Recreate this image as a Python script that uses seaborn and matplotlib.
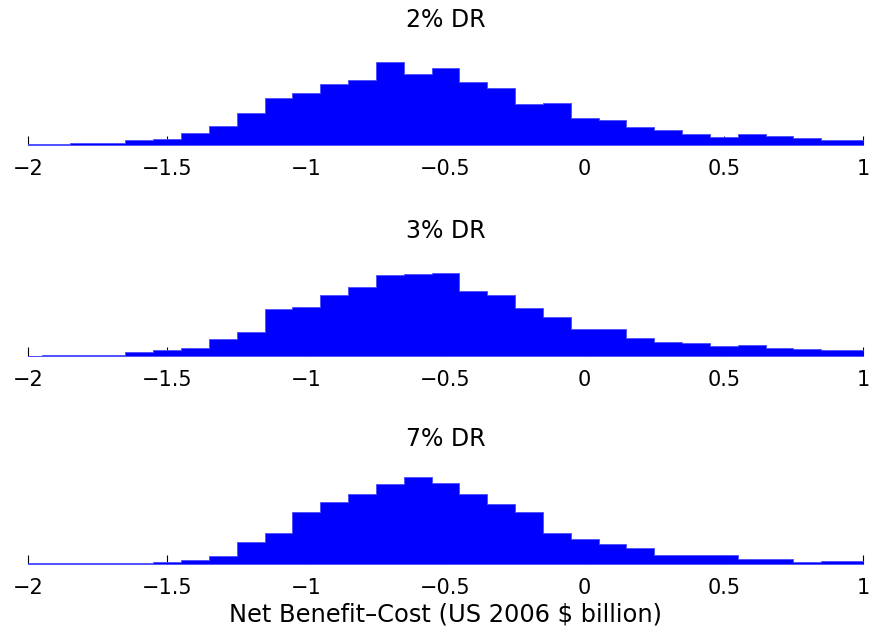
import numpy as np
import pandas as pd
import matplotlib
matplotlib.use("Agg")
import matplotlib.pyplot as plt
import seaborn as sns

# Histogram bin centres (width 0.1), net benefit minus cost in US 2006 $ billion
bin_centers = [-2.0, -1.9, -1.8, -1.7, -1.6, -1.5, -1.4, -1.3, -1.2, -1.1,
               -1.0, -0.9, -0.8, -0.7, -0.6, -0.5, -0.4, -0.3, -0.2, -0.1,
               0.0, 0.1, 0.2, 0.3, 0.4, 0.5, 0.6, 0.7, 0.8, 0.9, 1.0]

# Frequencies of simulated outcomes for each discount rate
freq_dr2 = [0.7, 0.7, 2.3, 2.3, 5.0, 6.3, 12.3, 19.0, 31.7, 47.3,
            51.7, 60.7, 64.7, 82.7, 70.7, 77.3, 63.0, 57.3, 41.0, 42.0,
            26.7, 24.7, 17.7, 15.0, 10.7, 8.0, 10.7, 9.3, 6.7, 5.3, 5.3]
freq_dr3 = [0.5, 1.0, 1.0, 1.0, 4.0, 6.0, 8.3, 16.7, 24.0, 46.7,
            49.0, 60.7, 69.3, 80.7, 81.7, 83.3, 64.7, 60.7, 47.7, 39.3,
            26.7, 26.7, 17.7, 14.0, 12.7, 10.0, 11.0, 8.3, 6.7, 5.7, 5.7]
freq_dr7 = [0.7, 0.7, 0.7, 0.7, 0.7, 2.3, 3.7, 8.3, 22.0, 30.7,
            51.7, 61.7, 70.3, 80.0, 87.0, 81.3, 70.0, 60.3, 51.7, 30.7,
            25.0, 20.3, 16.3, 9.3, 9.3, 9.3, 5.0, 5.0, 2.3, 3.3, 3.3]

panel_titles = ["2% DR", "3% DR", "7% DR"]
tick_values = [-2, -1.5, -1, -0.5, 0, 0.5, 1]
tick_labels = ["\u22122", "\u22121.5", "\u22121", "\u22120.5", "0", "0.5", "1"]
x_label = "Net Benefit\u2013Cost (US 2006 $ billion)"

sns.set_style("white")
plt.rcParams["font.family"] = ["DejaVu Sans"]
plt.rcParams["text.color"] = "black"
plt.rcParams["axes.labelcolor"] = "black"

W, H = 870, 630
fig = plt.figure(figsize=(W / 100, H / 100), dpi=100)

left_px, right_px = 28, 863
baselines_px = [145, 356, 564]
axes_h_px = 100

edges = [round(-2.05 + 0.1 * k, 2) for k in range(len(bin_centers) + 1)]
series = [freq_dr2, freq_dr3, freq_dr7]

for i, (title, freq) in enumerate(zip(panel_titles, series)):
    ax = fig.add_axes([left_px / W, 1 - baselines_px[i] / H,
                       (right_px - left_px) / W, axes_h_px / H])
    df = pd.DataFrame({"x": bin_centers, "w": freq})
    sns.histplot(data=df, x="x", weights="w", bins=edges, stat="count",
                 element="step", fill=True, color=(0, 0, 1), alpha=1,
                 linewidth=0.6, edgecolor=(0.3, 0.3, 1.0), ax=ax)
    ax.set_xlim(-2, 1)
    ax.set_ylim(0, axes_h_px)
    ax.set_axisbelow(True)
    ax.set_yticks([])
    ax.set_ylabel("")
    ax.set_xticks(tick_values)
    ax.set_xticklabels(tick_labels)
    ax.tick_params(axis="x", direction="in", length=6.5, width=0.8,
                   colors="black", labelsize=15, pad=10, bottom=True)
    for s in ax.spines.values():
        s.set_visible(False)
    ax.set_title(title, fontsize=17, pad=13, color="black")
    if i == 2:
        ax.set_xlabel(x_label, fontsize=17.4, labelpad=3, color="black")
    else:
        ax.set_xlabel("")
    ax.patch.set_alpha(0)

fig.savefig("out.png", dpi=100)
